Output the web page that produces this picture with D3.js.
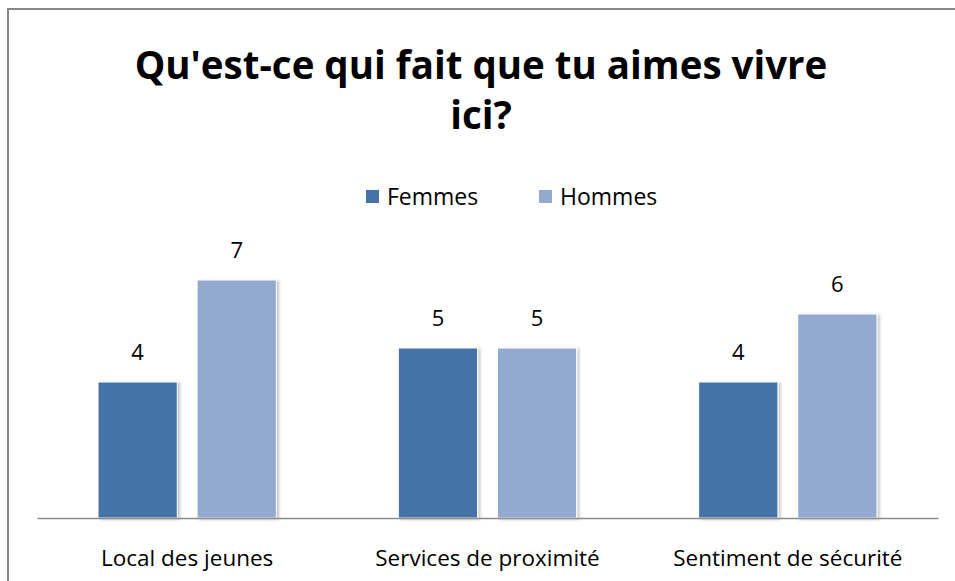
<!DOCTYPE html>
<html>
<head>
<meta charset="utf-8">
<script src="https://cdn.jsdelivr.net/npm/d3@7"></script>
<style>
  body { margin: 0; background: #fff; }
  text { font-family: "Open Sans", "DejaVu Sans", sans-serif; fill: #000; }
</style>
</head>
<body>
<svg id="chart" width="955" height="581"></svg>
<script>
const categories = ["Local des jeunes", "Services de proximité", "Sentiment de sécurité"];
const seriesNames = ["Femmes", "Hommes"];
const femmes = [4, 5, 4];
const hommes = [7, 5, 6];
const seriesColors = ["#4572a7", "#93a9cf"];

const svg = d3.select("#chart");
const width = 955, height = 581;
const margin = { left: 37, right: 17, top: 0, bottom: 63 };
const baseY = 518;

// frame
svg.append("rect")
    .attr("x", 8).attr("y", 9)
    .attr("width", width).attr("height", height)
    .attr("fill", "#fff")
    .attr("stroke", "#888").attr("stroke-width", 2);

const defs = svg.append("defs");
const shadow = defs.append("filter").attr("id", "shadow")
    .attr("x", "-10%").attr("y", "-10%").attr("width", "130%").attr("height", "130%");
shadow.append("feDropShadow")
    .attr("dx", 2).attr("dy", 1).attr("stdDeviation", 1.6)
    .attr("flood-color", "#000").attr("flood-opacity", 0.25);

// title
const title = svg.append("text")
    .attr("x", 481)
    .attr("text-anchor", "middle")
    .style("font-weight", "bold")
    .style("font-size", "38.5px");
title.append("tspan").attr("x", 481).attr("y", 79).text("Qu'est-ce qui fait que tu aimes vivre");
title.append("tspan").attr("x", 481).attr("y", 129).text("ici?");

const x0 = d3.scaleBand()
    .domain(categories)
    .range([margin.left, width - margin.right]);

const x1 = d3.scaleBand()
    .domain(seriesNames)
    .range([61, x0.bandwidth() - 61])
    .paddingInner(0.2);

const y = d3.scaleLinear()
    .domain([0, 8])
    .range([baseY, baseY - 8 * 34]);

const table = categories.map((c, i) => ({
    category: c,
    values: [
        { series: seriesNames[0], value: femmes[i], color: seriesColors[0] },
        { series: seriesNames[1], value: hommes[i], color: seriesColors[1] }
    ]
}));

const groups = svg.append("g").selectAll("g.cat")
    .data(table)
    .join("g")
    .attr("class", "cat")
    .attr("transform", d => `translate(${x0(d.category)},0)`);

groups.selectAll("rect")
    .data(d => d.values)
    .join("rect")
    .attr("x", d => x1(d.series))
    .attr("y", d => y(d.value))
    .attr("width", x1.bandwidth())
    .attr("height", d => y(0) - y(d.value))
    .attr("fill", d => d.color)
    .attr("stroke", "#fff")
    .attr("stroke-width", 1)
    .attr("filter", "url(#shadow)");

groups.selectAll("text.val")
    .data(d => d.values)
    .join("text")
    .attr("class", "val")
    .attr("x", d => x1(d.series) + x1.bandwidth() / 2)
    .attr("y", d => y(d.value) - 22)
    .attr("text-anchor", "middle")
    .style("font-size", "22px")
    .text(d => d.value);

// baseline axis
const axis = svg.append("g")
    .attr("transform", `translate(0,${baseY})`)
    .call(d3.axisBottom(x0).tickSize(0).tickPadding(32));
axis.select(".domain").attr("stroke", "#8c8c8c").attr("stroke-width", 1.5);
axis.selectAll("text")
    .style("font-family", "'Open Sans', sans-serif")
    .style("font-size", "22.5px")
    .attr("fill", "#000");

// legend
const legendPos = [366, 539];
const legend = svg.append("g").selectAll("g")
    .data(seriesNames)
    .join("g")
    .attr("transform", (d, i) => `translate(${legendPos[i]},190)`);
legend.append("rect")
    .attr("width", 13).attr("height", 13)
    .attr("fill", (d, i) => seriesColors[i]);
legend.append("text")
    .attr("x", 21).attr("y", 15)
    .style("font-size", "23px")
    .text(d => d);
</script>
</body>
</html>
